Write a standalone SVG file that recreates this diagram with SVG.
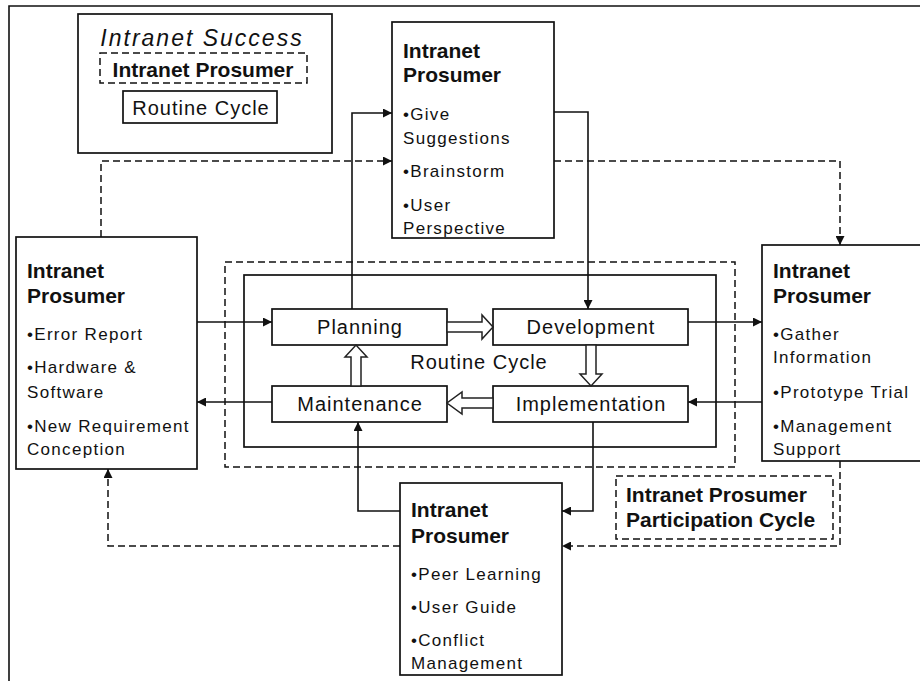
<svg xmlns="http://www.w3.org/2000/svg" width="920" height="683" viewBox="0 0 920 683">
<defs>
<marker id="ah" viewBox="0 0 10 10" refX="10" refY="5" markerWidth="10" markerHeight="9" markerUnits="userSpaceOnUse" orient="auto">
<path d="M0,0 L10,5 L0,10 Z" fill="#111"/>
</marker>
<style>
.box{fill:#fff;stroke:#111;stroke-width:1.7}
.dbox{fill:none;stroke:#111;stroke-width:1.5;stroke-dasharray:7 4}
.ln{fill:none;stroke:#111;stroke-width:1.6}
.dl{fill:none;stroke:#111;stroke-width:1.5;stroke-dasharray:7 4}
.hol{fill:#fff;stroke:#222;stroke-width:1.5}
.t{font-family:"Liberation Sans",Arial,sans-serif;font-size:21px;font-weight:bold;fill:#111}
.b{font-family:"Liberation Sans",Arial,sans-serif;font-size:17px;letter-spacing:1.3px;fill:#111}
.p{font-family:"Liberation Sans",Arial,sans-serif;font-size:20px;letter-spacing:1px;fill:#111;text-anchor:middle}
</style>
</defs>
<rect width="920" height="683" fill="#fff"/>
<path class="ln" d="M9,681 V6 H920"/>

<g id="legend">
<rect class="box" x="78" y="14" width="254" height="139"/>
<text x="202" y="46" font-family="Liberation Sans, Arial, sans-serif" font-size="23" font-style="italic" letter-spacing="2" text-anchor="middle" fill="#111">Intranet Success</text>
<rect class="dbox" x="100" y="53" width="207" height="30"/>
<text class="t" x="203" y="77" text-anchor="middle">Intranet Prosumer</text>
<rect class="box" x="123" y="91" width="154" height="32"/>
<text class="p" x="201" y="115">Routine Cycle</text>
</g>

<g id="routine-cycle">
<rect class="dbox" x="225" y="262" width="510" height="205"/>
<rect class="box" x="244" y="275" width="472" height="172"/>
<text class="p" x="479" y="369">Routine Cycle</text>
</g>

<g id="planning">
<rect class="box" x="272" y="309" width="175" height="36"/>
<text class="p" x="360" y="334">Planning</text>
</g>
<g id="development">
<rect class="box" x="493" y="309" width="195" height="36"/>
<text class="p" x="591" y="334">Development</text>
</g>
<g id="maintenance">
<rect class="box" x="272" y="386" width="175" height="36"/>
<text class="p" x="360" y="411">Maintenance</text>
</g>
<g id="implementation">
<rect class="box" x="493" y="386" width="195" height="36"/>
<text class="p" x="591" y="411">Implementation</text>
</g>

<g id="routine-arrows">
<polygon class="hol" points="447,322 482,322 482,315 493,327 482,339 482,332 447,332"/>
<polygon class="hol" points="586,345 586,374 580,374 591,386 602,374 596,374 596,345"/>
<polygon class="hol" points="493,398 462,398 462,392 447,403 462,414 462,408 493,408"/>
<polygon class="hol" points="351,386 351,357 345,357 356,345 367,357 361,357 361,386"/>
</g>

<g id="node-top">
<rect class="box" x="392" y="22" width="162" height="216"/>
<text class="t" x="403" y="58">Intranet</text>
<text class="t" x="403" y="82">Prosumer</text>
<text class="b" x="403" y="120">•Give</text>
<text class="b" x="403" y="144">Suggestions</text>
<text class="b" x="403" y="177">•Brainstorm</text>
<text class="b" x="403" y="211">•User</text>
<text class="b" x="403" y="234">Perspective</text>
</g>

<g id="node-left">
<rect class="box" x="16" y="237" width="181" height="232"/>
<text class="t" x="27" y="278">Intranet</text>
<text class="t" x="27" y="303">Prosumer</text>
<text class="b" x="27" y="340">•Error Report</text>
<text class="b" x="27" y="373">•Hardware &amp;</text>
<text class="b" x="27" y="398">Software</text>
<text class="b" x="27" y="432">•New Requirement</text>
<text class="b" x="27" y="455">Conception</text>
</g>

<g id="node-right">
<rect class="box" x="762" y="245" width="170" height="216"/>
<text class="t" x="773" y="278">Intranet</text>
<text class="t" x="773" y="303">Prosumer</text>
<text class="b" x="773" y="340">•Gather</text>
<text class="b" x="773" y="363">Information</text>
<text class="b" x="773" y="398">•Prototype Trial</text>
<text class="b" x="773" y="432">•Management</text>
<text class="b" x="773" y="455">Support</text>
</g>

<g id="node-bottom">
<rect class="box" x="400" y="483" width="162" height="192"/>
<text class="t" x="411" y="517">Intranet</text>
<text class="t" x="411" y="543">Prosumer</text>
<text class="b" x="411" y="580">•Peer Learning</text>
<text class="b" x="411" y="613">•User Guide</text>
<text class="b" x="411" y="646">•Conflict</text>
<text class="b" x="411" y="669">Management</text>
</g>

<g id="participation-label">
<rect class="dbox" x="616" y="476" width="217" height="63"/>
<text class="t" x="626" y="502">Intranet Prosumer</text>
<text class="t" x="626" y="527">Participation Cycle</text>
</g>

<g id="connectors">
<path class="ln" d="M197,322 H272" marker-end="url(#ah)"/>
<path class="ln" d="M272,402 H197" marker-end="url(#ah)"/>
<path class="ln" d="M688,322 H762" marker-end="url(#ah)"/>
<path class="ln" d="M762,402 H688" marker-end="url(#ah)"/>
<path class="ln" d="M352,309 V113 H392" marker-end="url(#ah)"/>
<path class="ln" d="M554,112 H588 V309" marker-end="url(#ah)"/>
<path class="ln" d="M593,422 V511 H562" marker-end="url(#ah)"/>
<path class="ln" d="M400,511 H358 V422" marker-end="url(#ah)"/>
<path class="dl" d="M101,237 V161 H392" marker-end="url(#ah)"/>
<path class="dl" d="M554,161 H840 V245" marker-end="url(#ah)"/>
<path class="dl" d="M840,461 V546 H562" marker-end="url(#ah)"/>
<path class="dl" d="M400,546 H108 V469" marker-end="url(#ah)"/>
</g>
</svg>
